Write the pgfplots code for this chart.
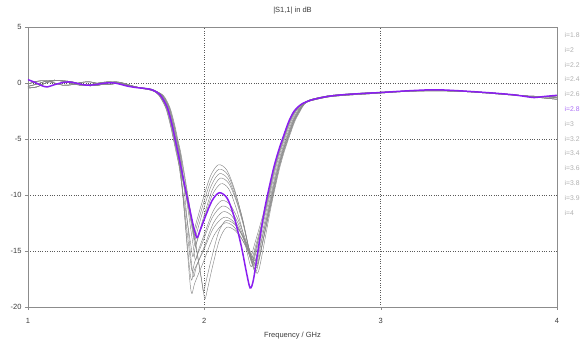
\documentclass[border=0pt]{standalone}
\usepackage{fontspec}
\setmainfont{Liberation Sans}
\usepackage{pgfplots}
\pgfplotsset{compat=1.18}
\definecolor{violetc}{RGB}{138,30,240}
\definecolor{curvegray}{RGB}{135,135,135}
\definecolor{leggray}{RGB}{175,175,175}
\definecolor{legviolet}{RGB}{170,110,245}
\definecolor{framegray}{RGB}{140,140,140}
\definecolor{labgray}{RGB}{60,60,60}
\tikzset{gl/.style={curvegray, line width=0.45pt, smooth, tension=0.5, no markers}}
\begin{document}
\begin{tikzpicture}
\begin{axis}[
  at={(0pt,0pt)}, anchor=south west,
  scale only axis, width=529pt, height=280pt,
  xmin=1, xmax=4, ymin=-20, ymax=5,
  xtick={1,2,3,4}, ytick={-20,-15,-10,-5,0,5},
  grid=major, major grid style={dotted, black!65, line width=0.55pt},
  axis line style={framegray, line width=0.6pt},
  tick align=outside, major tick length=3pt, tick style={framegray},
  xtick pos=left, ytick pos=left,
  ticklabel style={font=\fontsize{7.5}{9}\selectfont, text=labgray},
  /pgf/number format/assume math mode=true,
  xticklabel style={yshift=-5pt},
]
% k0
\addplot[gl] coordinates {(1.00,-0.3)(1.05,-0.1)(1.10,0.15)(1.15,0.25)(1.20,0.15)(1.25,-0.05)(1.30,-0.2)(1.35,-0.15)(1.40,0.0)(1.45,0.1)(1.50,0.05)(1.55,-0.15)(1.60,-0.35)(1.65,-0.45)(1.70,-0.6)
(1.740,-1.07)(1.780,-2.2)(1.807,-3.75)(1.824,-5.0)(1.847,-6.7)(1.888,-9.4)(1.928,-12.1)(1.940,-13.2)(1.955,-12.4)(1.989,-10.55)(2.035,-8.3)(2.080,-7.3)(2.128,-7.79)(2.171,-9.49)(2.213,-11.92)(2.245,-14.27)(2.265,-15.4)(2.283,-14.5)(2.344,-11.1)(2.390,-7.8)(2.420,-6.1)(2.450,-4.7)(2.480,-3.4)(2.510,-2.5)(2.550,-1.9)
(2.60,-1.55)(2.65,-1.35)(2.70,-1.2)(2.77,-1.07)(2.88,-0.95)(3.00,-0.85)(3.13,-0.72)(3.26,-0.64)(3.35,-0.64)(3.45,-0.7)(3.55,-0.8)(3.64,-0.9)(3.75,-1.05)(3.85,-1.2)(3.93,-1.25)(4.00,-1.15)};
% k1
\addplot[gl] coordinates {(1.00,-0.1)(1.05,0.15)(1.10,0.2)(1.15,0.0)(1.20,-0.2)(1.25,-0.15)(1.30,0.05)(1.35,0.1)(1.40,-0.05)(1.45,-0.15)(1.50,-0.05)(1.55,-0.1)(1.60,-0.3)(1.65,-0.5)(1.70,-0.65)
(1.745,-1.07)(1.785,-2.2)(1.812,-3.75)(1.829,-5.0)(1.852,-6.7)(1.891,-9.6)(1.930,-12.5)(1.942,-13.6)(1.957,-12.8)(1.991,-10.95)(2.038,-8.7)(2.083,-7.7)(2.132,-8.17)(2.175,-9.83)(2.218,-12.2)(2.249,-14.49)(2.270,-15.6)(2.288,-14.7)(2.349,-11.1)(2.395,-7.8)(2.425,-6.1)(2.455,-4.7)(2.485,-3.4)(2.515,-2.5)(2.553,-1.9)
(2.60,-1.6)(2.70,-1.25)(2.80,-1.1)(2.90,-1.0)(3.00,-0.9)(3.15,-0.75)(3.30,-0.68)(3.45,-0.72)(3.60,-0.85)(3.72,-1.0)(3.82,-1.15)(3.90,-1.3)(4.00,-1.45)};
% k2
\addplot[gl] coordinates {(1.00,-0.45)(1.05,-0.35)(1.10,0.0)(1.15,0.2)(1.20,0.2)(1.25,0.1)(1.30,-0.1)(1.35,-0.25)(1.40,-0.2)(1.45,0.0)(1.50,0.1)(1.55,-0.05)(1.60,-0.3)(1.65,-0.45)(1.70,-0.55)
(1.750,-1.07)(1.790,-2.2)(1.817,-3.75)(1.834,-5.0)(1.857,-6.7)(1.895,-9.8)(1.933,-12.9)(1.945,-14.0)(1.960,-13.2)(1.994,-11.35)(2.041,-9.1)(2.086,-8.1)(2.134,-8.56)(2.177,-10.18)(2.220,-12.49)(2.252,-14.72)(2.272,-15.8)(2.290,-14.9)(2.352,-11.1)(2.398,-7.8)(2.428,-6.1)(2.458,-4.7)(2.488,-3.4)(2.518,-2.5)(2.554,-1.9)
(2.60,-1.5)(2.70,-1.15)(2.80,-1.0)(2.90,-0.9)(3.00,-0.82)(3.15,-0.72)(3.30,-0.7)(3.45,-0.75)(3.60,-0.9)(3.72,-1.05)(3.82,-1.15)(3.90,-1.2)(4.00,-1.3)};
% k3
\addplot[gl] coordinates {(1.00,-0.3)(1.05,-0.1)(1.10,0.15)(1.15,0.25)(1.20,0.15)(1.25,-0.05)(1.30,-0.2)(1.35,-0.15)(1.40,0.0)(1.45,0.1)(1.50,0.05)(1.55,-0.15)(1.60,-0.35)(1.65,-0.45)(1.70,-0.6)
(1.755,-1.07)(1.795,-2.2)(1.822,-3.75)(1.839,-5.0)(1.862,-6.7)(1.899,-10.1)(1.936,-13.5)(1.948,-14.6)(1.963,-13.8)(1.998,-11.86)(2.045,-9.54)(2.090,-8.5)(2.138,-8.95)(2.181,-10.53)(2.223,-12.78)(2.255,-14.95)(2.275,-16.0)(2.293,-15.1)(2.356,-11.1)(2.402,-7.8)(2.432,-6.1)(2.462,-4.7)(2.492,-3.4)(2.522,-2.5)(2.556,-1.9)
(2.60,-1.55)(2.65,-1.35)(2.70,-1.2)(2.77,-1.07)(2.88,-0.95)(3.00,-0.85)(3.13,-0.72)(3.26,-0.64)(3.35,-0.64)(3.45,-0.7)(3.55,-0.8)(3.64,-0.9)(3.75,-1.05)(3.85,-1.2)(3.93,-1.25)(4.00,-1.15)};
% k4
\addplot[gl] coordinates {(1.00,-0.1)(1.05,0.15)(1.10,0.2)(1.15,0.0)(1.20,-0.2)(1.25,-0.15)(1.30,0.05)(1.35,0.1)(1.40,-0.05)(1.45,-0.15)(1.50,-0.05)(1.55,-0.1)(1.60,-0.3)(1.65,-0.5)(1.70,-0.65)
(1.742,-1.07)(1.782,-2.2)(1.809,-3.75)(1.826,-5.0)(1.849,-6.7)(1.886,-10.55)(1.923,-14.4)(1.935,-15.5)(1.950,-14.6)(1.990,-12.58)(2.042,-10.1)(2.093,-9.0)(2.138,-9.44)(2.177,-11.0)(2.217,-13.22)(2.246,-15.36)(2.265,-16.4)(2.283,-15.5)(2.348,-11.1)(2.394,-7.8)(2.424,-6.1)(2.454,-4.7)(2.484,-3.4)(2.514,-2.5)(2.552,-1.9)
(2.60,-1.6)(2.70,-1.25)(2.80,-1.1)(2.90,-1.0)(3.00,-0.9)(3.15,-0.75)(3.30,-0.68)(3.45,-0.72)(3.60,-0.85)(3.72,-1.0)(3.82,-1.15)(3.90,-1.3)(4.00,-1.45)};
% k5
\addplot[gl] coordinates {(1.00,-0.45)(1.05,-0.35)(1.10,0.0)(1.15,0.2)(1.20,0.2)(1.25,0.1)(1.30,-0.1)(1.35,-0.25)(1.40,-0.2)(1.45,0.0)(1.50,0.1)(1.55,-0.05)(1.60,-0.3)(1.65,-0.45)(1.70,-0.55)
(1.758,-1.07)(1.798,-2.2)(1.825,-3.75)(1.842,-5.0)(1.865,-6.7)(1.902,-10.7)(1.938,-14.7)(1.950,-15.8)(1.965,-15.0)(2.002,-13.42)(2.051,-11.4)(2.098,-10.5)(2.145,-10.84)(2.187,-12.04)(2.229,-13.75)(2.260,-15.4)(2.280,-16.2)(2.298,-15.3)(2.362,-11.1)(2.408,-7.8)(2.438,-6.1)(2.468,-4.7)(2.498,-3.4)(2.528,-2.5)(2.559,-1.9)
(2.60,-1.5)(2.70,-1.15)(2.80,-1.0)(2.90,-0.9)(3.00,-0.82)(3.15,-0.72)(3.30,-0.7)(3.45,-0.75)(3.60,-0.9)(3.72,-1.05)(3.82,-1.15)(3.90,-1.2)(4.00,-1.3)};
% k6
\addplot[gl] coordinates {(1.00,-0.3)(1.05,-0.1)(1.10,0.15)(1.15,0.25)(1.20,0.15)(1.25,-0.05)(1.30,-0.2)(1.35,-0.15)(1.40,0.0)(1.45,0.1)(1.50,0.05)(1.55,-0.15)(1.60,-0.35)(1.65,-0.45)(1.70,-0.6)
(1.746,-1.07)(1.786,-2.2)(1.813,-3.75)(1.830,-5.0)(1.853,-6.7)(1.887,-11.2)(1.920,-15.7)(1.932,-16.8)(1.947,-15.9)(1.991,-14.19)(2.046,-11.99)(2.100,-11.0)(2.148,-11.34)(2.191,-12.51)(2.233,-14.19)(2.265,-15.82)(2.285,-16.6)(2.303,-15.7)(2.366,-11.1)(2.412,-7.8)(2.442,-6.1)(2.472,-4.7)(2.502,-3.4)(2.532,-2.5)(2.561,-1.9)
(2.60,-1.55)(2.65,-1.35)(2.70,-1.2)(2.77,-1.07)(2.88,-0.95)(3.00,-0.85)(3.13,-0.72)(3.26,-0.64)(3.35,-0.64)(3.45,-0.7)(3.55,-0.8)(3.64,-0.9)(3.75,-1.05)(3.85,-1.2)(3.93,-1.25)(4.00,-1.15)};
% k7
\addplot[gl] coordinates {(1.00,-0.1)(1.05,0.15)(1.10,0.2)(1.15,0.0)(1.20,-0.2)(1.25,-0.15)(1.30,0.05)(1.35,0.1)(1.40,-0.05)(1.45,-0.15)(1.50,-0.05)(1.55,-0.1)(1.60,-0.3)(1.65,-0.5)(1.70,-0.65)
(1.760,-1.07)(1.800,-2.2)(1.827,-3.75)(1.844,-5.0)(1.867,-6.7)(1.898,-11.45)(1.928,-16.2)(1.940,-17.3)(1.955,-16.4)(1.998,-14.69)(2.052,-12.49)(2.105,-11.5)(2.153,-11.82)(2.196,-12.96)(2.238,-14.58)(2.270,-16.14)(2.290,-16.9)(2.308,-16.0)(2.370,-11.1)(2.416,-7.8)(2.446,-6.1)(2.476,-4.7)(2.506,-3.4)(2.536,-2.5)(2.563,-1.9)
(2.60,-1.6)(2.70,-1.25)(2.80,-1.1)(2.90,-1.0)(3.00,-0.9)(3.15,-0.75)(3.30,-0.68)(3.45,-0.72)(3.60,-0.85)(3.72,-1.0)(3.82,-1.15)(3.90,-1.3)(4.00,-1.45)};
% k8
\addplot[gl] coordinates {(1.00,-0.45)(1.05,-0.35)(1.10,0.0)(1.15,0.2)(1.20,0.2)(1.25,0.1)(1.30,-0.1)(1.35,-0.25)(1.40,-0.2)(1.45,0.0)(1.50,0.1)(1.55,-0.05)(1.60,-0.3)(1.65,-0.45)(1.70,-0.55)
(1.750,-1.07)(1.790,-2.2)(1.817,-3.75)(1.834,-5.0)(1.857,-6.7)(1.887,-11.6)(1.916,-16.5)(1.928,-17.6)(1.943,-16.7)(1.992,-15.08)(2.052,-12.95)(2.110,-12.0)(2.158,-12.27)(2.201,-13.22)(2.243,-14.57)(2.275,-15.87)(2.295,-16.5)(2.313,-15.6)(2.374,-11.1)(2.420,-7.8)(2.450,-6.1)(2.480,-4.7)(2.510,-3.4)(2.540,-2.5)(2.565,-1.9)
(2.60,-1.5)(2.70,-1.15)(2.80,-1.0)(2.90,-0.9)(3.00,-0.82)(3.15,-0.72)(3.30,-0.7)(3.45,-0.75)(3.60,-0.9)(3.72,-1.05)(3.82,-1.15)(3.90,-1.2)(4.00,-1.3)};
% k9
\addplot[gl] coordinates {(1.00,-0.3)(1.05,-0.1)(1.10,0.15)(1.15,0.25)(1.20,0.15)(1.25,-0.05)(1.30,-0.2)(1.35,-0.15)(1.40,0.0)(1.45,0.1)(1.50,0.05)(1.55,-0.15)(1.60,-0.35)(1.65,-0.45)(1.70,-0.6)
(1.754,-1.07)(1.794,-2.2)(1.821,-3.75)(1.838,-5.0)(1.861,-6.7)(1.890,-12.2)(1.918,-17.7)(1.930,-18.8)(1.945,-17.9)(1.995,-15.97)(2.056,-13.57)(2.115,-12.5)(2.163,-12.77)(2.206,-13.72)(2.248,-15.07)(2.280,-16.37)(2.300,-17.0)(2.318,-16.1)(2.378,-11.1)(2.424,-7.8)(2.454,-6.1)(2.484,-4.7)(2.514,-3.4)(2.544,-2.5)(2.567,-1.9)
(2.60,-1.55)(2.65,-1.35)(2.70,-1.2)(2.77,-1.07)(2.88,-0.95)(3.00,-0.85)(3.13,-0.72)(3.26,-0.64)(3.35,-0.64)(3.45,-0.7)(3.55,-0.8)(3.64,-0.9)(3.75,-1.05)(3.85,-1.2)(3.93,-1.25)(4.00,-1.15)};
% k10
\addplot[gl] coordinates {(1.00,-0.1)(1.05,0.15)(1.10,0.2)(1.15,0.0)(1.20,-0.2)(1.25,-0.15)(1.30,0.05)(1.35,0.1)(1.40,-0.05)(1.45,-0.15)(1.50,-0.05)(1.55,-0.1)(1.60,-0.3)(1.65,-0.5)(1.70,-0.65)
(1.765,-1.07)(1.805,-2.2)(1.832,-3.75)(1.849,-5.0)(1.872,-6.7)(1.932,-12.45)(1.991,-18.2)(2.003,-19.3)(2.018,-18.4)(2.046,-16.42)(2.086,-13.99)(2.125,-12.9)(2.169,-13.1)(2.208,-13.82)(2.247,-14.84)(2.276,-15.82)(2.295,-16.3)(2.313,-15.4)(2.374,-11.1)(2.420,-7.8)(2.450,-6.1)(2.480,-4.7)(2.510,-3.4)(2.540,-2.5)(2.565,-1.9)
(2.60,-1.6)(2.70,-1.25)(2.80,-1.1)(2.90,-1.0)(3.00,-0.9)(3.15,-0.75)(3.30,-0.68)(3.45,-0.72)(3.60,-0.85)(3.72,-1.0)(3.82,-1.15)(3.90,-1.3)(4.00,-1.45)};
% k11
\addplot[gl] coordinates {(1.00,-0.45)(1.05,-0.35)(1.10,0.0)(1.15,0.2)(1.20,0.2)(1.25,0.1)(1.30,-0.1)(1.35,-0.25)(1.40,-0.2)(1.45,0.0)(1.50,0.1)(1.55,-0.05)(1.60,-0.3)(1.65,-0.45)(1.70,-0.55)
(1.762,-1.07)(1.802,-2.2)(1.829,-3.75)(1.846,-5.0)(1.869,-6.7)(1.926,-12.1)(1.983,-17.5)(1.995,-18.6)(2.010,-17.7)(2.039,-15.77)(2.080,-13.37)(2.120,-12.3)(2.164,-12.52)(2.203,-13.27)(2.242,-14.35)(2.271,-15.4)(2.290,-15.9)(2.308,-15.0)(2.369,-11.1)(2.415,-7.8)(2.445,-6.1)(2.475,-4.7)(2.505,-3.4)(2.535,-2.5)(2.562,-1.9)
(2.60,-1.5)(2.70,-1.15)(2.80,-1.0)(2.90,-0.9)(3.00,-0.82)(3.15,-0.72)(3.30,-0.7)(3.45,-0.75)(3.60,-0.9)(3.72,-1.05)(3.82,-1.15)(3.90,-1.2)(4.00,-1.3)};
% highlighted i=2.8
\addplot[violetc, line width=1.5pt, smooth, tension=0.5, no markers] coordinates {(1.00,0.30)(1.04,0.05)(1.08,-0.25)(1.11,-0.35)(1.15,-0.15)(1.20,0.05)(1.23,0.1)(1.27,0.0)(1.31,-0.15)(1.34,-0.2)(1.38,-0.15)(1.43,-0.02)(1.48,0.02)(1.52,-0.1)(1.57,-0.3)(1.62,-0.42)(1.67,-0.5)(1.71,-0.65)(1.75,-1.07)(1.79,-2.2)(1.817,-3.75)(1.834,-5.0)(1.857,-6.7)(1.88,-8.5)(1.90,-10.0)(1.919,-11.4)(1.94,-12.9)(1.958,-13.8)(1.975,-13.2)(2.004,-12.0)(2.044,-10.5)(2.085,-9.8)(2.13,-10.3)(2.17,-12.0)(2.21,-14.6)(2.24,-17.0)(2.26,-18.3)(2.278,-17.6)(2.305,-14.9)(2.344,-11.1)(2.39,-7.8)(2.42,-6.1)(2.45,-4.7)(2.48,-3.4)(2.51,-2.5)(2.55,-1.9)(2.60,-1.55)(2.65,-1.35)(2.70,-1.2)(2.77,-1.07)(2.88,-0.95)(3.00,-0.85)(3.13,-0.72)(3.26,-0.62)(3.35,-0.62)(3.45,-0.7)(3.55,-0.8)(3.64,-0.9)(3.75,-1.05)(3.82,-1.2)(3.87,-1.3)(3.93,-1.2)(4.00,-1.1)};
\end{axis}
\node[font=\fontsize{7.5}{9}\selectfont, text=labgray] at (264.5pt,296pt) {|S1,1| in dB};
\node[font=\fontsize{7.5}{9}\selectfont, text=labgray] at (264.5pt,-29pt) {Frequency / GHz};
\begin{scope}[every node/.style={anchor=west, font=\fontsize{6.8}{8}\selectfont, text=leggray, inner sep=0pt}]
\node at (536.5pt,272pt) {i=1.8};
\node at (536.5pt,257.2pt) {i=2};
\node at (536.5pt,242.4pt) {i=2.2};
\node at (536.5pt,227.6pt) {i=2.4};
\node at (536.5pt,212.8pt) {i=2.6};
\node[text=legviolet] at (536.5pt,198pt) {i=2.8};
\node at (536.5pt,183.2pt) {i=3};
\node at (536.5pt,168.4pt) {i=3.2};
\node at (536.5pt,153.6pt) {i=3.4};
\node at (536.5pt,138.8pt) {i=3.6};
\node at (536.5pt,124pt) {i=3.8};
\node at (536.5pt,109.2pt) {i=3.9};
\node at (536.5pt,94.4pt) {i=4};
\end{scope}
\pgfresetboundingbox
\path[use as bounding box] (-28pt,-40pt) rectangle (553pt,307pt);
\end{tikzpicture}
\end{document}
